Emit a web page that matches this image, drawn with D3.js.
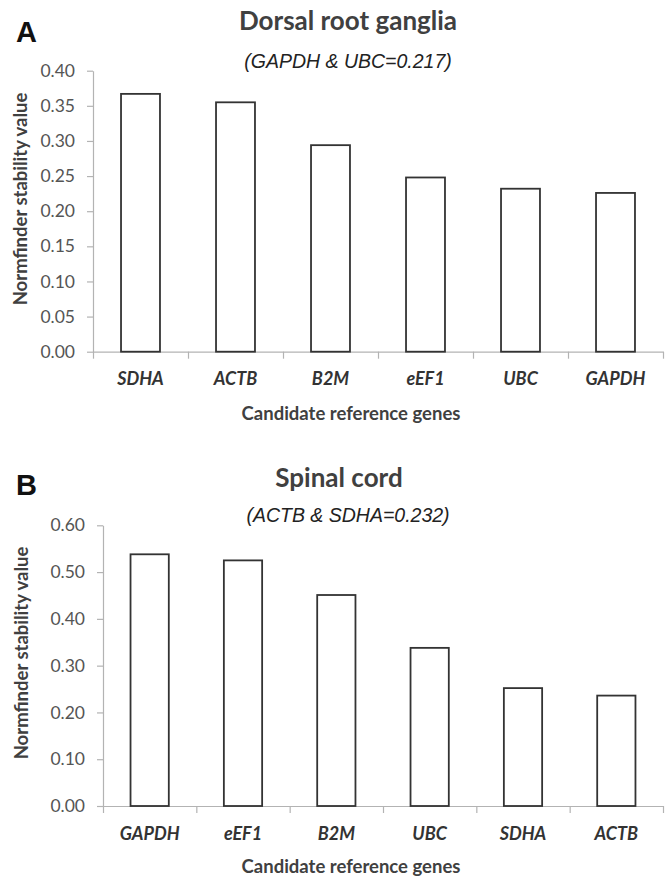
<!DOCTYPE html>
<html>
<head>
<meta charset="utf-8">
<script src="https://cdn.jsdelivr.net/npm/d3@7"></script>
<style>
  body { margin: 0; background: #fff; }
  svg { display: block; }
</style>
</head>
<body>
<svg width="671" height="877"></svg>
<script>
// data
const genesA = ["SDHA", "ACTB", "B2M", "eEF1", "UBC", "GAPDH"];
const valuesA = [0.367, 0.355, 0.294, 0.248, 0.232, 0.226];
const ticksA = [0, 0.05, 0.10, 0.15, 0.20, 0.25, 0.30, 0.35, 0.40];

const genesB = ["GAPDH", "eEF1", "B2M", "UBC", "SDHA", "ACTB"];
const valuesB = [0.538, 0.525, 0.451, 0.338, 0.252, 0.236];
const ticksB = [0, 0.10, 0.20, 0.30, 0.40, 0.50, 0.60];

const svg = d3.select("svg");

function drawPanel(opt) {
    const g = svg.append("g");
    const n = opt.genes.length;

    // band scale for the categories (no padding: boundaries = tick marks)
    const x = d3.scaleBand()
        .domain(opt.genes)
        .range([opt.left, opt.right])
        .padding(0);

    const y = d3.scaleLinear()
        .domain([0, opt.max])
        .range([opt.bottom, opt.top]);

    // y axis
    const yAxis = g.append("g")
        .attr("transform", "translate(" + opt.left + ",0)")
        .call(d3.axisLeft(y).tickValues(opt.ticks).tickFormat(d3.format(".2f"))
            .tickSize(6).tickSizeOuter(0).tickPadding(12));
    yAxis.select(".domain").attr("stroke", "#b3b3b3").attr("stroke-width", 1.2);
    yAxis.selectAll(".tick line").attr("stroke", "#b3b3b3").attr("stroke-width", 1.2);
    yAxis.selectAll("text")
        .style("font-family", "Lato, sans-serif")
        .style("font-size", "17.5px")
        .attr("fill", "#555");

    // x axis: ticks at the category boundaries
    const xb = d3.scaleLinear().domain([0, n]).range([opt.left, opt.right]);
    const xAxis = g.append("g")
        .attr("transform", "translate(0," + opt.bottom + ")")
        .call(d3.axisBottom(xb).tickValues(d3.range(n + 1)).tickFormat("")
            .tickSize(7).tickSizeOuter(0));
    xAxis.select(".domain").attr("stroke", "#b3b3b3").attr("stroke-width", 1.2);
    xAxis.selectAll(".tick line").attr("stroke", "#b3b3b3").attr("stroke-width", 1.2);

    // bars
    g.selectAll(".bar")
        .data(opt.values)
        .enter()
        .append("rect")
        .attr("class", "bar")
        .attr("x", (d, i) => x(opt.genes[i]) + x.bandwidth() * 0.295)
        .attr("width", x.bandwidth() * 0.41)
        .attr("y", d => y(d))
        .attr("height", d => y(0) - y(d))
        .attr("fill", "#fff")
        .attr("stroke", "#333")
        .attr("stroke-width", 1.8);

    // category labels
    g.selectAll(".cat")
        .data(opt.genes)
        .enter()
        .append("text")
        .attr("class", "cat")
        .attr("x", d => x(d) + x.bandwidth() / 2)
        .attr("y", opt.catY)
        .attr("text-anchor", "middle")
        .style("font-family", "Lato, sans-serif")
        .style("font-size", "18px")
        .style("font-weight", "bold")
        .style("font-style", "italic")
        .attr("fill", "#333")
        .text(d => d);

    // axis titles
    g.append("text")
        .attr("x", 351)
        .attr("y", opt.xLabelY)
        .attr("text-anchor", "middle")
        .style("font-family", "Lato, sans-serif")
        .style("font-size", "18.5px")
        .style("font-weight", "bold")
        .attr("fill", "#404040")
        .text("Candidate reference genes");

    g.append("text")
        .attr("transform", "translate(" + opt.yLabelX + "," + opt.yLabelCY + ")rotate(-90)")
        .attr("text-anchor", "middle")
        .style("font-family", "Lato, sans-serif")
        .style("font-size", "18.5px")
        .style("font-weight", "bold")
        .attr("fill", "#404040")
        .text("Normfinder stability value");

    // title + subtitle
    g.append("text")
        .attr("x", opt.titleX)
        .attr("y", opt.titleY)
        .attr("text-anchor", "middle")
        .style("font-family", "Lato, sans-serif")
        .style("font-size", "26px")
        .style("font-weight", "bold")
        .attr("fill", "#404040")
        .text(opt.title);

    g.append("text")
        .attr("x", 348)
        .attr("y", opt.subY)
        .attr("text-anchor", "middle")
        .style("font-family", "'Liberation Sans', Arial, sans-serif")
        .style("font-size", "19.5px")
        .style("font-style", "italic")
        .attr("fill", "#222")
        .text(opt.subtitle);

    // panel letter
    g.append("text")
        .attr("x", 16)
        .attr("y", opt.letterY)
        .style("font-family", "'Liberation Sans', Arial, sans-serif")
        .style("font-size", "29px")
        .style("font-weight", "bold")
        .attr("fill", "#111")
        .text(opt.letter);
}

drawPanel({
    genes: genesA, values: valuesA, ticks: ticksA, max: 0.40,
    left: 93, right: 663, top: 70.7, bottom: 351.7,
    catY: 385, xLabelY: 420, yLabelX: 27, yLabelCY: 199,
    title: "Dorsal root ganglia", titleX: 348, titleY: 30,
    subtitle: "(GAPDH & UBC=0.217)", subY: 68,
    letter: "A", letterY: 42
});

drawPanel({
    genes: genesB, values: valuesB, ticks: ticksB, max: 0.60,
    left: 103, right: 663, top: 525.3, bottom: 806,
    catY: 840, xLabelY: 873, yLabelX: 28, yLabelCY: 653,
    title: "Spinal cord", titleX: 339, titleY: 487,
    subtitle: "(ACTB & SDHA=0.232)", subY: 522,
    letter: "B", letterY: 495
});
</script>
</body>
</html>
